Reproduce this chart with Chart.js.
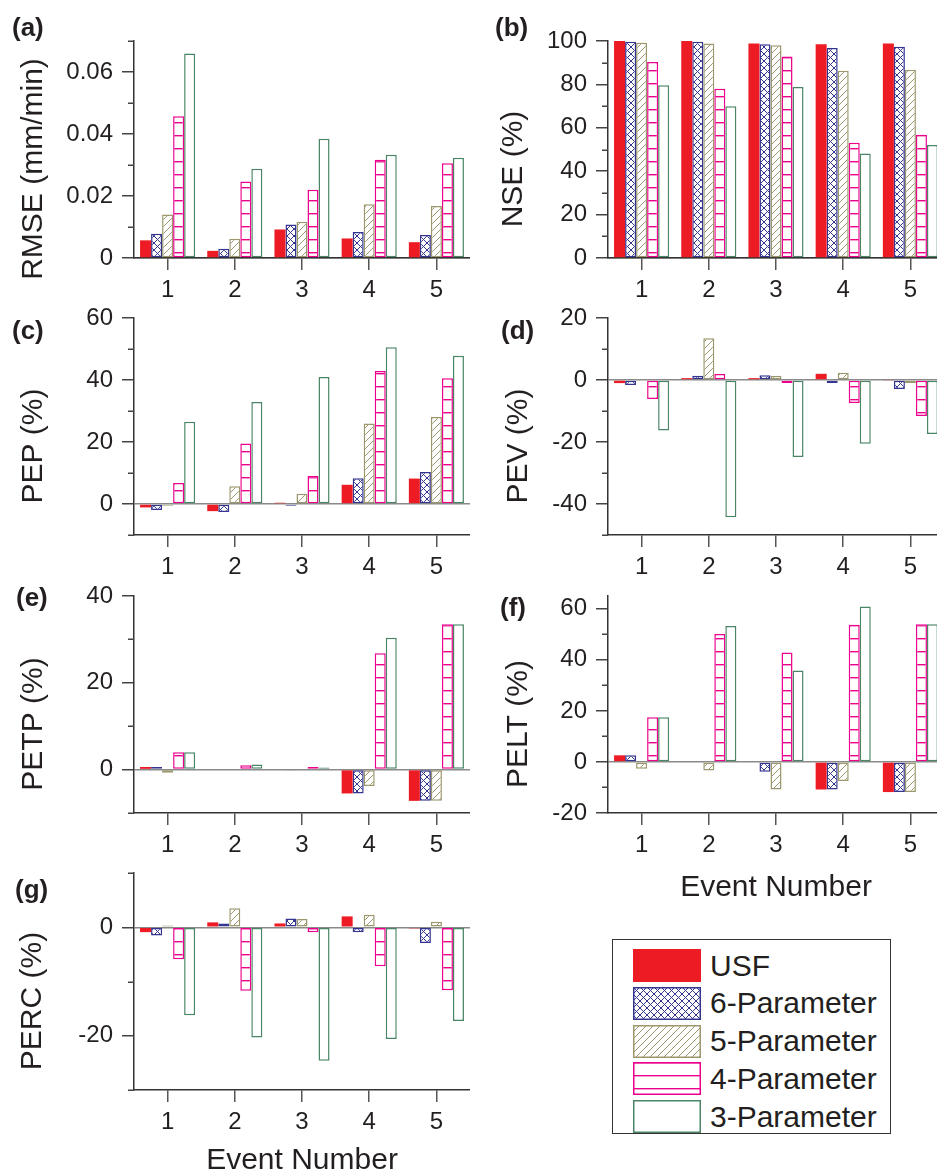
<!DOCTYPE html>
<html>
<head>
<meta charset="utf-8">
<script src="https://cdn.jsdelivr.net/npm/chart.js@4.4.1/dist/chart.umd.min.js"></script>
<style>
  html, body { margin: 0; padding: 0; background: #fff; width: 937px; height: 1172px; overflow: hidden; position: relative; }
  canvas.panel { position: absolute; }
  .plabel { position: absolute; font: bold 26px "Liberation Sans", Arial, sans-serif; line-height: 26px; color: #231F20; white-space: nowrap; }
  #legendBox { position: absolute; left: 612px; top: 939px; width: 277px; height: 193px; border: 1.5px solid #333; }
  .lgSwatch { position: absolute; }
  .lgText { position: absolute; font: 30px "Liberation Sans", Arial, sans-serif; line-height: 32px; color: #231F20; white-space: nowrap; }
</style>
</head>
<body>
<script>
// ---------------- data ----------------
const categories = ['1', '2', '3', '4', '5'];
const seriesNames = ['USF', '6-Parameter', '5-Parameter', '4-Parameter', '3-Parameter'];

// each row: one series (USF, 6-P, 5-P, 4-P, 3-P); each column: event 1..5
const rmseValues = [
  [0.0057, 0.0023, 0.0092, 0.0063, 0.0051],
  [0.0078, 0.0030, 0.0108, 0.0084, 0.0074],
  [0.0140, 0.0062, 0.0117, 0.0173, 0.0168],
  [0.0457, 0.0247, 0.0220, 0.0317, 0.0306],
  [0.0660, 0.0288, 0.0385, 0.0333, 0.0323]
];
const nseValues = [
  [100.0, 100.0, 98.9, 98.5, 98.9],
  [99.7, 99.7, 98.5, 96.8, 97.4],
  [99.2, 98.8, 98.0, 86.3, 86.8],
  [90.3, 78.0, 92.9, 53.1, 56.8],
  [79.6, 69.9, 78.8, 48.1, 52.1]
];
const pepValues = [
  [-1.1, -2.3, 0.4, 6.2, 8.2],
  [-1.9, -2.6, -0.6, 8.3, 10.3],
  [-0.6, 5.7, 3.3, 26.0, 28.1],
  [6.8, 19.5, 9.0, 42.9, 40.6],
  [26.5, 32.9, 41.0, 50.6, 47.8]
];
const pevValues = [
  [-1.0, 0.6, 0.6, 2.0, -0.3],
  [-1.6, 1.4, 1.5, -1.0, -2.9],
  [0.3, 13.5, 1.4, 2.3, -1.0],
  [-6.1, 1.9, -1.0, -7.4, -11.6],
  [-16.3, -44.3, -24.8, -20.6, -17.4]
];
const petpValues = [
  [0.6, 0, 0, -5.5, -7.2],
  [0.6, 0, -0.2, -5.5, -7.2],
  [-0.7, -0.15, -0.2, -3.8, -7.2],
  [4.0, 1.0, 0.6, 26.8, 33.5],
  [4.0, 1.15, 0.5, 30.4, 33.5]
];
const peltValues = [
  [2.6, 0, 0, -10.8, -11.8],
  [2.6, 0, -3.8, -10.8, -11.8],
  [-2.7, -3.4, -10.8, -7.5, -11.8],
  [17.5, 50.1, 42.9, 53.7, 53.9],
  [17.5, 53.2, 35.8, 60.9, 53.9]
];
const percValues = [
  [-0.9, 0.9, 0.7, 2.0, -0.2],
  [-1.5, 0.7, 1.6, -0.9, -2.9],
  [0.3, 3.5, 1.5, 2.3, 1.0],
  [-5.9, -11.7, -0.9, -7.2, -11.6],
  [-16.2, -20.3, -24.6, -20.6, -17.3]
];

// tick labels (major) and minor tick values
const rmseTicks = [0, 0.02, 0.04, 0.06];
const rmseMinor = [0.01, 0.03, 0.05, 0.07];
const nseTicks = [0, 20, 40, 60, 80, 100];
const nseMinor = [10, 30, 50, 70, 90];
const pepTicks = [0, 20, 40, 60];
const pepMinor = [-10, 10, 30, 50];
const pevTicks = [-40, -20, 0, 20];
const pevMinor = [-50, -30, -10, 10];
const petpTicks = [0, 20, 40];
const petpMinor = [-10, 10, 30];
const peltTicks = [-20, 0, 20, 40, 60];
const peltMinor = [-10, 10, 30, 50];
const percTicks = [-20, 0];
const percMinor = [-30, -10, 10];

// ---------------- styles ----------------
const FONT = '"Liberation Sans", Arial, sans-serif';
const TEXT = '#231F20';
const RED = '#ED1C24', NAVY = '#33358F', OLIVE = '#9C976C', PINK = '#EC008C', GREEN = '#4A8566';

function makePattern(w, h, draw) {
  const c = document.createElement('canvas');
  c.width = w; c.height = h;
  const x = c.getContext('2d');
  x.fillStyle = '#fff'; x.fillRect(0, 0, w, h);
  draw(x, w, h);
  return x.createPattern(c, 'repeat');
}
const crossPat = makePattern(7, 7, (x, w, h) => {
  x.strokeStyle = NAVY; x.lineWidth = 1;
  x.beginPath();
  x.moveTo(-1, -1); x.lineTo(w + 1, h + 1);
  x.moveTo(w + 1, -1); x.lineTo(-1, h + 1);
  x.stroke();
});
const diagPat = makePattern(7, 7, (x, w, h) => {
  x.strokeStyle = OLIVE; x.lineWidth = 1;
  x.beginPath();
  x.moveTo(-1, h + 1); x.lineTo(w + 1, -1);
  x.moveTo(-2, 1); x.lineTo(1, -2);
  x.moveTo(w - 1, h + 2); x.lineTo(w + 2, h - 1);
  x.stroke();
});
const horizPat = makePattern(4, 13, (x, w, h) => {
  x.fillStyle = PINK; x.fillRect(0, 0, w, 1.4);
});

const seriesStyles = [
  { backgroundColor: RED, borderColor: RED, borderWidth: 0 },
  { backgroundColor: crossPat, borderColor: NAVY, borderWidth: 1.5 },
  { backgroundColor: diagPat, borderColor: OLIVE, borderWidth: 1.5 },
  { backgroundColor: horizPat, borderColor: PINK, borderWidth: 1.5 },
  { backgroundColor: '#ffffff', borderColor: GREEN, borderWidth: 1.5 }
];

// ---------------- plugins ----------------
const minorTickPlugin = {
  id: 'minorTicks',
  afterDraw(chart, args, o) {
    if (!o || !o.values) return;
    const s = chart.scales.y, ctx = chart.ctx, x0 = chart.chartArea.left;
    ctx.save();
    ctx.strokeStyle = '#444'; ctx.lineWidth = 1.5;
    o.values.forEach(v => {
      const y = Math.round(s.getPixelForValue(v)) + 0.25;
      ctx.beginPath(); ctx.moveTo(x0 - 6, y); ctx.lineTo(x0, y); ctx.stroke();
    });
    ctx.restore();
  }
};
const yTitlePlugin = {
  id: 'yTitle',
  afterDraw(chart, args, o) {
    if (!o || !o.text) return;
    const { ctx, chartArea } = chart;
    ctx.save();
    ctx.translate(o.x, (chartArea.top + chartArea.bottom) / 2 + o.dy);
    ctx.rotate(-Math.PI / 2);
    ctx.font = '30px ' + FONT;
    ctx.fillStyle = TEXT; ctx.textAlign = 'center'; ctx.textBaseline = 'middle';
    ctx.fillText(o.text, 0, 0);
    ctx.restore();
  }
};

Chart.defaults.font.family = FONT;
Chart.defaults.color = TEXT;

// ---------------- layout ----------------
const COLS = [{ left: 0, width: 470, yWidth: 134 }, { left: 470, width: 474, yWidth: 138 }];
const ROWS = [{ top: 41, bottom: 258 }, { top: 318, bottom: 535 }, { top: 596, bottom: 813 }, { top: 873, bottom: 1090 }];
const PAD_TOP = 36;

const panels = [
  { tag: '(a)', col: 0, row: 0, values: rmseValues, ticks: rmseTicks, minor: rmseMinor, min: 0, max: 0.07, title: 'RMSE (mm/min)', titleX: 33.5, lx: 12, ly: 14 },
  { tag: '(b)', col: 1, row: 0, values: nseValues, ticks: nseTicks, minor: nseMinor, min: 0, max: 100, title: 'NSE (%)', titleX: 44, lx: 495, ly: 14 },
  { tag: '(c)', col: 0, row: 1, values: pepValues, ticks: pepTicks, minor: pepMinor, min: -10, max: 60, title: 'PEP (%)', titleX: 34, lx: 12, ly: 317 },
  { tag: '(d)', col: 1, row: 1, values: pevValues, ticks: pevTicks, minor: pevMinor, min: -50, max: 20, title: 'PEV (%)', titleX: 49, lx: 501, ly: 317 },
  { tag: '(e)', col: 0, row: 2, values: petpValues, ticks: petpTicks, minor: petpMinor, min: -10, max: 40, title: 'PETP (%)', titleX: 34, lx: 16, ly: 584 },
  { tag: '(f)', col: 1, row: 2, values: peltValues, ticks: peltTicks, minor: peltMinor, min: -20, max: 65, title: 'PELT (%)', titleX: 49, lx: 500, ly: 594, xTitle: 'Event Number', xHeight: 93 },
  { tag: '(g)', col: 0, row: 3, values: percValues, ticks: percTicks, minor: percMinor, min: -30, max: 10, title: 'PERC (%)', titleX: 32.5, lx: 15, ly: 876, xTitle: 'Event Number', xHeight: 89 }
];

panels.forEach(p => {
  const col = COLS[p.col], row = ROWS[p.row];
  const xHeight = p.xHeight || 50;
  const cv = document.createElement('canvas');
  cv.className = 'panel';
  cv.width = col.width;
  cv.height = PAD_TOP + (row.bottom - row.top) + xHeight;
  cv.style.left = col.left + 'px';
  cv.style.top = (row.top - PAD_TOP) + 'px';
  document.body.appendChild(cv);

  const lab = document.createElement('div');
  lab.className = 'plabel';
  lab.textContent = p.tag;
  lab.style.left = p.lx + 'px';
  lab.style.top = p.ly + 'px';
  document.body.appendChild(lab);

  const datasets = seriesNames.map((name, i) => Object.assign({
    label: name,
    data: p.values[i],
    borderSkipped: false,
    barPercentage: 1.0,
    categoryPercentage: 0.82
  }, seriesStyles[i]));

  new Chart(cv.getContext('2d'), {
    type: 'bar',
    data: { labels: categories, datasets },
    options: {
      responsive: false,
      animation: false,
      devicePixelRatio: 1,
      layout: { padding: { top: PAD_TOP, left: 0, right: 0, bottom: 0 } },
      plugins: {
        legend: { display: false },
        tooltip: { enabled: false },
        minorTicks: { values: p.minor },
        yTitle: { text: p.title, x: p.titleX, dy: 19.5 }
      },
      scales: {
        x: {
          type: 'category',
          offset: true,
          grid: { offset: false, drawOnChartArea: false, drawTicks: true, tickLength: 12, tickColor: '#555', lineWidth: 1.5 },
          border: { display: true, color: '#333', width: 1.5 },
          ticks: { font: { size: 24 }, color: TEXT, padding: 6, maxRotation: 0, autoSkip: false },
          title: p.xTitle ? { display: true, text: p.xTitle, font: { size: 30 }, color: TEXT, padding: { top: 0, bottom: 0 } } : { display: false },
          afterFit: s => { s.height = xHeight; }
        },
        y: {
          type: 'linear',
          min: p.min,
          max: p.max,
          grid: {
            drawOnChartArea: true,
            drawTicks: true,
            tickLength: 12,
            lineWidth: 1.5,
            color: c => (c.tick && c.tick.value === 0) ? '#8a8a8a' : 'rgba(0,0,0,0)',
            tickColor: '#444'
          },
          border: { display: true, color: '#333', width: 1.5 },
          ticks: { font: { size: 24 }, color: TEXT, padding: 9, callback: v => String(v) },
          afterBuildTicks: s => { s.ticks = p.ticks.map(v => ({ value: v })); },
          afterFit: s => { s.width = col.yWidth; }
        }
      }
    },
    plugins: [minorTickPlugin, yTitlePlugin]
  });
});

// ---------------- legend (HTML) ----------------
const legendBox = document.createElement('div');
legendBox.id = 'legendBox';
document.body.appendChild(legendBox);
seriesNames.forEach((name, i) => {
  const top = 949 + i * 37.8;
  const sw = document.createElement('canvas');
  sw.className = 'lgSwatch';
  sw.width = 68; sw.height = 33;
  sw.style.left = '633px';
  sw.style.top = top + 'px';
  const x = sw.getContext('2d');
  const st = seriesStyles[i];
  x.fillStyle = st.backgroundColor;
  x.fillRect(0, 0, 68, 33);
  if (st.borderWidth) {
    x.strokeStyle = st.borderColor; x.lineWidth = 1.5;
    x.strokeRect(0.75, 0.75, 66.5, 31.5);
  }
  document.body.appendChild(sw);
  const t = document.createElement('div');
  t.className = 'lgText';
  t.textContent = name;
  t.style.left = '710px';
  t.style.top = (top + 0.5) + 'px';
  document.body.appendChild(t);
});
</script>
</body>
</html>
